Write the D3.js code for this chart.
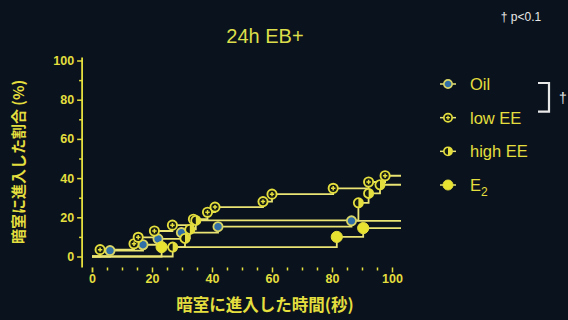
<!DOCTYPE html>
<html>
<head>
<meta charset="utf-8">
<script src="https://cdn.jsdelivr.net/npm/d3@7"></script>
<style>
  html, body { margin: 0; padding: 0; background: #0a131d; }
  svg { display: block; }
</style>
</head>
<body>
<svg id="chart" width="568" height="320"></svg>
<script>
// Cumulative % of animals that entered the dark room, by entry time (s)
const seriesNames = ["Oil", "low EE", "high EE", "E2"];
const oilTimes   = [6, 17, 22, 29.8, 42, 86.5];
const oilPct     = [3, 6, 9, 12.2, 15.2, 18.2];
const lowTimes   = [2.7, 14, 15.4, 20.8, 26.8, 33.8, 38.5, 41, 57, 60, 80.4, 92.2, 97.7];
const lowPct     = [3.5, 6.5, 9.8, 13, 16, 19, 22.6, 25.2, 28, 31.8, 34.8, 38, 41.2];
const highTimes  = [26.9, 31, 32.6, 34.6, 88.8, 92.2, 96];
const highPct    = [4.8, 9.2, 13.8, 18.4, 27.4, 32.2, 36.6];
const e2Times    = [23.2, 81.6, 90.4];
const e2Pct      = [4.8, 10, 14.5];
const endTime    = 103;
const xTicks     = [0, 20, 40, 60, 80, 100];
const yTicks     = [0, 20, 40, 60, 80, 100];

const YELLOW = "#e4df3e";
const LINE = "#e9e473";
const WHITE = "#e8e8e8";

const svg = d3.select("#chart");
const x = d3.scaleLinear().domain([0, 100]).range([92, 392]);
const y = d3.scaleLinear().domain([0, 100]).range([256.5, 60.5]);

const axisX = x(-3.3);   // left axis sits left of time zero
const axisY = y(-5.6);   // bottom axis sits below 0 %

// ---- axes ----
const gy = svg.append("g").attr("transform", `translate(${axisX},0)`);
gy.call(d3.axisLeft(y).tickValues(yTicks).tickSize(5).tickSizeOuter(0).tickPadding(3));
gy.append("g").call(d3.axisLeft(y).tickValues(d3.range(10, 100, 20)).tickSize(3).tickFormat(""));
gy.selectAll(".domain").remove();
gy.append("line").attr("x1", 0).attr("x2", 0).attr("y1", y(101.5)).attr("y2", axisY);

const gx = svg.append("g").attr("transform", `translate(0,${axisY})`);
gx.call(d3.axisBottom(x).tickValues(xTicks).tickSize(5).tickSizeOuter(0).tickPadding(2));
gx.append("g").call(d3.axisBottom(x).tickValues(d3.range(5, 100, 5).filter(v => v % 20)).tickSize(3).tickFormat(""));
gx.selectAll(".domain").remove();
gx.append("line").attr("x1", axisX).attr("x2", x(103.3)).attr("y1", 0).attr("y2", 0);

svg.selectAll(".tick line").attr("stroke", YELLOW).attr("stroke-width", 1.5);
gx.select("line:last-of-type").attr("stroke", YELLOW).attr("stroke-width", 1.8);
gy.select(":scope > line").attr("stroke", YELLOW).attr("stroke-width", 1.8);
svg.selectAll(".tick text")
  .attr("fill", YELLOW)
  .style("font-family", "'Liberation Sans', Arial, sans-serif")
  .style("font-weight", "bold")
  .style("font-size", "12.5px");

// ---- step curves ----
const series = [
  { name: "Oil",    t: oilTimes,  p: oilPct,  kind: "oil" },
  { name: "low EE", t: lowTimes,  p: lowPct,  kind: "low" },
  { name: "high EE",t: highTimes, p: highPct, kind: "high" },
  { name: "E2",     t: e2Times,   p: e2Pct,   kind: "e2" }
];

const line = d3.line().x(d => x(d[0])).y(d => y(d[1])).curve(d3.curveStepAfter);

series.forEach(s => {
  const pts = [[0, 0]].concat(s.t.map((t, i) => [t, s.p[i]]));
  pts.push([endTime, s.p[s.p.length - 1]]);
  svg.append("path").datum(pts)
    .attr("d", line)
    .attr("fill", "none")
    .attr("stroke", LINE)
    .attr("stroke-width", 1.8);
});

// marker drawing per group
function marker(g, kind) {
  if (kind === "oil") {
    g.append("circle").attr("r", 4.6).attr("fill", "#2f6ea6").attr("stroke", "#d9d668").attr("stroke-width", 1.8);
  } else if (kind === "low") {
    g.append("circle").attr("r", 4.6).attr("fill", "#141a14").attr("stroke", YELLOW).attr("stroke-width", 1.9);
    g.append("path").attr("d", "M-2.2,0H2.2M0,-2.2V2.2").attr("stroke", YELLOW).attr("stroke-width", 1.5);
  } else if (kind === "high") {
    g.append("circle").attr("r", 4.6).attr("fill", "#141a14").attr("stroke", YELLOW).attr("stroke-width", 1.8);
    g.append("path").attr("d", d3.arc()({ innerRadius: 0, outerRadius: 4.6, startAngle: 0, endAngle: Math.PI })).attr("fill", YELLOW);
  } else {
    g.append("circle").attr("r", 5.6).attr("fill", "#e8e330").attr("stroke", YELLOW).attr("stroke-width", 1);
  }
}

series.forEach(s => {
  s.t.forEach((t, i) => {
    const g = svg.append("g").attr("transform", `translate(${x(t)},${y(s.p[i])})`);
    marker(g, s.kind);
  });
});

// ---- titles ----
svg.append("text").attr("x", 265).attr("y", 43).attr("text-anchor", "middle")
  .attr("fill", "#dcdd4a").style("font-family", "'Liberation Sans', Arial, sans-serif")
  .style("font-size", "20px").text("24h EB+");

svg.append("text").attr("x", 265).attr("y", 311).attr("text-anchor", "middle")
  .attr("fill", YELLOW).style("font-family", "'Noto Sans CJK JP', sans-serif")
  .style("font-weight", "bold").style("font-size", "16.5px").text("暗室に進入した時間(秒)");

svg.append("text").attr("transform", "translate(17,162) rotate(-90)").attr("text-anchor", "middle")
  .attr("dominant-baseline", "central")
  .attr("fill", YELLOW).style("font-family", "'Noto Sans CJK JP', sans-serif")
  .style("font-weight", "bold").style("font-size", "15px").text("暗室に進入した割合 (%)");

svg.append("text").attr("x", 521).attr("y", 21).attr("text-anchor", "middle")
  .attr("fill", WHITE).style("font-family", "'Liberation Sans', Arial, sans-serif")
  .style("font-size", "12px").text("† p<0.1");

// ---- legend ----
const legendY = d3.scalePoint().domain(seriesNames).range([84, 185]);
seriesNames.forEach((n, i) => {
  const cy = legendY(n);
  const g = svg.append("g").attr("transform", `translate(448,${cy})`);
  g.append("line").attr("x1", -8).attr("x2", 8).attr("stroke", LINE).attr("stroke-width", 1.5);
  const m = g.append("g").attr("transform", "scale(0.9)");
  marker(m, series[i].kind);
  const t = svg.append("text").attr("x", 470).attr("y", cy + 6)
    .attr("fill", YELLOW).style("font-family", "'Liberation Sans', Arial, sans-serif")
    .style("font-size", "16.5px");
  if (n === "E2") {
    t.append("tspan").text("E");
    t.append("tspan").attr("dy", 5).style("font-size", "12px").text("2");
  } else {
    t.text(n);
  }
});

// significance bracket between Oil and low EE
const bTop = legendY("Oil"), bBot = legendY("low EE");
svg.append("path")
  .attr("d", `M538,${bTop - 1}H549V${bBot - 6}H538`)
  .attr("fill", "none").attr("stroke", WHITE).attr("stroke-width", 2.2);
svg.append("text").attr("x", 563).attr("y", (bTop + bBot) / 2 + 2).attr("text-anchor", "middle")
  .attr("fill", WHITE).style("font-family", "'Liberation Sans', Arial, sans-serif")
  .style("font-size", "14px").text("†");
</script>
</body>
</html>
